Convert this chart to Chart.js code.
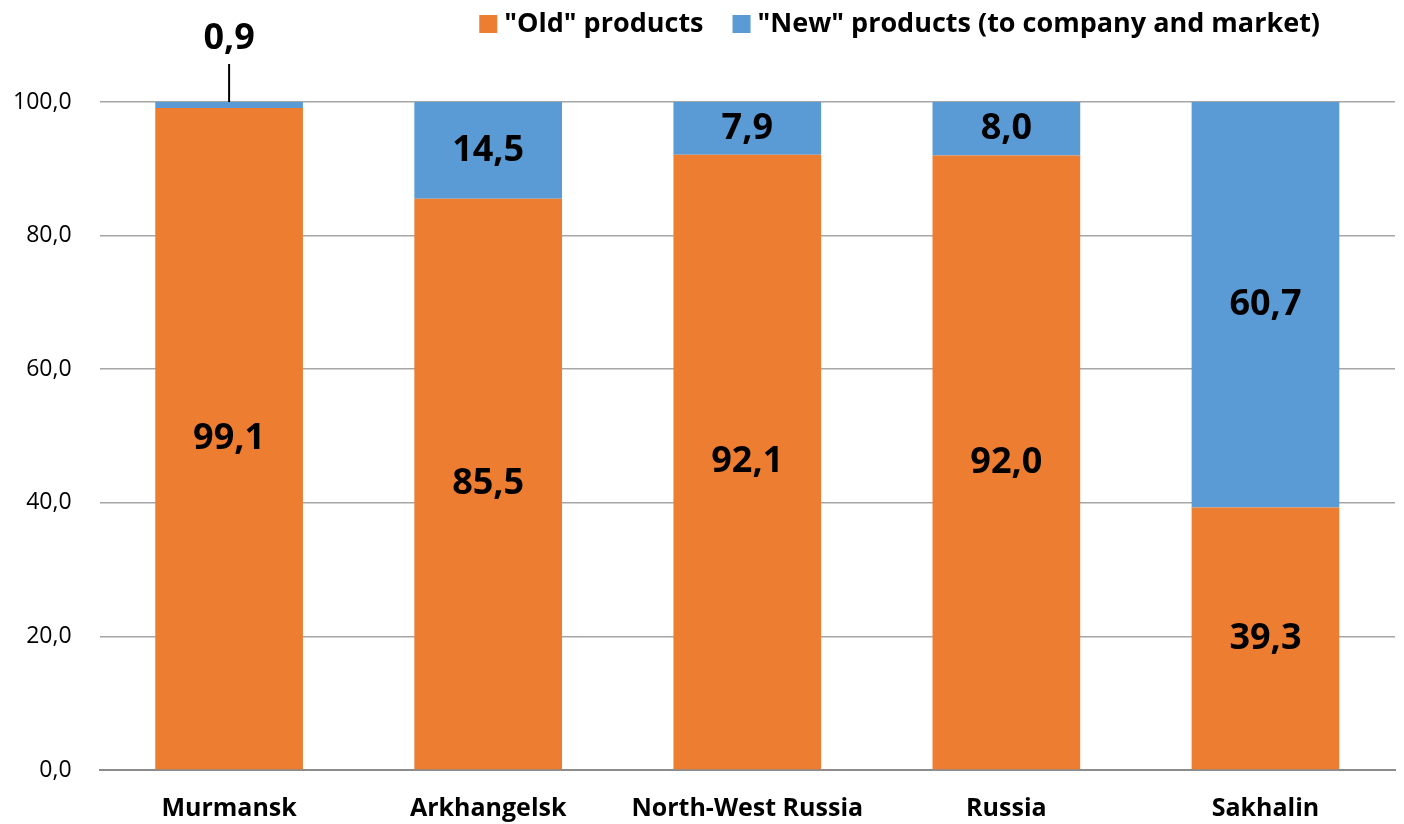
<!DOCTYPE html>
<html>
<head>
<meta charset="utf-8">
<script src="https://cdn.jsdelivr.net/npm/chart.js@4"></script>
<style>
  html, body { margin: 0; padding: 0; background: #fff; }
  #wrap { width: 1404px; height: 824px; }
</style>
</head>
<body>
<div id="wrap"><canvas id="Graphic" width="1404" height="824"></canvas></div>
<script>
const regions = ['Murmansk', 'Arkhangelsk', 'North-West Russia', 'Russia', 'Sakhalin'];
const oldProducts = [99.1, 85.5, 92.1, 92.0, 39.3];
const newProducts = [0.9, 14.5, 7.9, 8.0, 60.7];
const seriesNames = ['"Old" products', '"New" products (to company and market)'];
const seriesColors = ['#ED7D31', '#5B9BD5'];

const FONT = '"Open Sans", Lato, sans-serif';
const fmt = v => v.toFixed(1).replace('.', ',');

// value labels inside each segment; tiny segments get a callout above the plot
const valueLabels = {
    id: 'valueLabels',
    afterDatasetsDraw(chart) {
        const ctx = chart.ctx;
        ctx.save();
        ctx.fillStyle = '#000';
        ctx.font = 'bold 36px ' + FONT;
        ctx.textAlign = 'center';
        ctx.textBaseline = 'middle';
        chart.data.datasets.forEach((ds, i) => {
            const meta = chart.getDatasetMeta(i);
            meta.data.forEach((bar, j) => {
                const top = Math.min(bar.y, bar.base);
                const h = Math.abs(bar.base - bar.y);
                const text = fmt(ds.data[j]);
                if (h < 20) {
                    ctx.strokeStyle = '#000';
                    ctx.lineWidth = 2;
                    ctx.beginPath();
                    ctx.moveTo(bar.x, top);
                    ctx.lineTo(bar.x, top - 38);
                    ctx.stroke();
                    ctx.fillText(text, bar.x, top - 63);
                } else {
                    ctx.fillText(text, bar.x, top + h / 2);
                }
            });
        });
        ctx.restore();
    }
};

// legend drawn in the top-right corner
const cornerLegend = {
    id: 'cornerLegend',
    afterDraw(chart) {
        const ctx = chart.ctx;
        ctx.save();
        ctx.font = 'bold 27px ' + FONT;
        ctx.textBaseline = 'middle';
        const y = 24;
        let x = 1320;
        const items = chart.data.datasets.map(d => d).reverse();
        items.forEach(ds => {
            const w = ctx.measureText(ds.label).width;
            x -= w;
            ctx.fillStyle = '#000';
            ctx.textAlign = 'left';
            ctx.fillText(ds.label, x, y);
            ctx.fillStyle = ds.backgroundColor;
            ctx.fillRect(x - 25, y - 9, 18, 18);
            x -= 25 + 29;
        });
        ctx.restore();
    }
};

const chart = new Chart(document.getElementById('Graphic').getContext('2d'), {
    type: 'bar',
    data: {
        labels: regions,
        datasets: [
            { label: seriesNames[0], data: oldProducts, backgroundColor: seriesColors[0] },
            { label: seriesNames[1], data: newProducts, backgroundColor: seriesColors[1] }
        ]
    },
    options: {
        responsive: false,
        animation: false,
        barPercentage: 0.57,
        categoryPercentage: 1.0,
        layout: { padding: { top: 102, right: 9, left: -15, bottom: -24 } },
        plugins: {
            legend: { display: false },
            tooltip: { enabled: false }
        },
        scales: {
            x: {
                stacked: true,
                grid: { display: false, drawTicks: false },
                border: { color: '#8c8c8c', width: 2 },
                ticks: {
                    color: '#000',
                    font: { family: FONT, size: 25, weight: 'bold' },
                    padding: 24
                }
            },
            y: {
                stacked: true,
                min: 0,
                max: 100,
                border: { display: false },
                grid: { color: '#a6a6a6', lineWidth: 1.5, drawTicks: false },
                ticks: {
                    stepSize: 20,
                    color: '#000',
                    font: { family: FONT, size: 23 },
                    padding: 28,
                    callback: v => fmt(v)
                }
            }
        }
    },
    plugins: [valueLabels, cornerLegend]
});
</script>
</body>
</html>
